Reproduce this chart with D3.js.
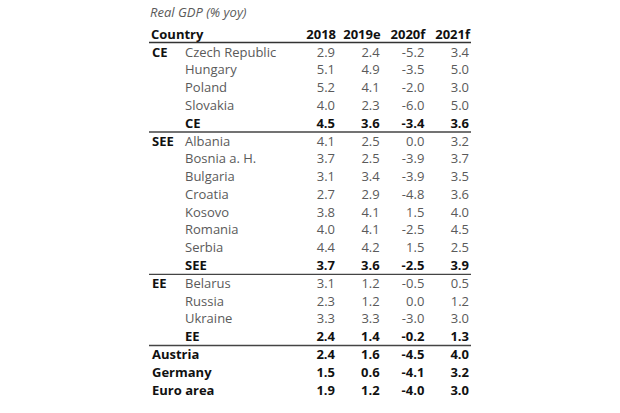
<!DOCTYPE html>
<html><head><meta charset="utf-8">
<script src="https://cdn.jsdelivr.net/npm/d3@7"></script>
<style>
html,body{margin:0;padding:0;background:#fff;}
svg{display:block;}
text{font-family:"Open Sans","DejaVu Sans",sans-serif;}
</style></head>
<body>
<svg id="chart" width="620" height="413"></svg>
<script>
const title = "Real GDP (% yoy)";
const columns = ["2018", "2019e", "2020f", "2021f"];
const groups = ["CE","","","","", "SEE","","","","","","","", "EE","","","", "","",""];
const countries = ["Czech Republic","Hungary","Poland","Slovakia","CE",
  "Albania","Bosnia a. H.","Bulgaria","Croatia","Kosovo","Romania","Serbia","SEE",
  "Belarus","Russia","Ukraine","EE",
  "Austria","Germany","Euro area"];
const v2018 = [2.9,5.1,5.2,4.0,4.5, 4.1,3.7,3.1,2.7,3.8,4.0,4.4,3.7, 3.1,2.3,3.3,2.4, 2.4,1.5,1.9];
const v2019 = [2.4,4.9,4.1,2.3,3.6, 2.5,2.5,3.4,2.9,4.1,4.1,4.2,3.6, 1.2,1.2,3.3,1.4, 1.6,0.6,1.2];
const v2020 = [-5.2,-3.5,-2.0,-6.0,-3.4, 0.0,-3.9,-3.9,-4.8,1.5,-2.5,1.5,-2.5, -0.5,0.0,-3.0,-0.2, -4.5,-4.1,-4.0];
const v2021 = [3.4,5.0,3.0,5.0,3.6, 3.2,3.7,3.5,3.6,4.0,4.5,2.5,3.9, 0.5,1.2,3.0,1.3, 4.0,3.2,3.0];
const boldRows = [4,12,16,17,18,19];
const standalone = [17,18,19];
const separatorsAfter = [4,12,16];

const svg = d3.select("#chart");
const rows = countries.map((c,i)=>({i, group:groups[i], country:c, vals:[v2018[i],v2019[i],v2020[i],v2021[i]], bold:boldRows.includes(i)}));

const y = d3.scalePoint().domain(d3.range(countries.length)).range([52, 390]);
const x = d3.scalePoint().domain(columns).range([335, 469]);
const step = y.step();
const fmt = v => d3.format(".1f")(v).replace("\u2212","-");

const gray = "#5a5a5a", black = "#111";
const fs = 13;

svg.append("text").attr("x",150).attr("y",17).attr("font-size",fs).attr("font-style","italic")
  .attr("fill",gray).text(title);

// header
svg.append("text").attr("x",151).attr("y",34).attr("dy","0.35em").attr("font-size",fs).attr("font-weight","bold").attr("fill",black).text("Country");
svg.selectAll("text.hdr").data(columns).join("text").attr("class","hdr")
  .attr("x",d=>x(d)+1).attr("y",34).attr("dy","0.35em").attr("text-anchor","end")
  .attr("font-size",fs).attr("font-weight","bold").attr("fill",black).text(d=>d);
svg.append("line").attr("x1",149).attr("x2",471).attr("y1",42.5).attr("y2",42.5).attr("stroke","#333").attr("stroke-width",1.6);

separatorsAfter.forEach(i=>{
  const yy = y(i)+step/2;
  svg.append("line").attr("x1",149).attr("x2",471).attr("y1",yy).attr("y2",yy).attr("stroke","#444").attr("stroke-width",1.4);
});

const g = svg.selectAll("g.row").data(rows).join("g").attr("class","row")
  .attr("transform",d=>`translate(0,${y(d.i)})`);
g.filter(d=>d.group).append("text").attr("x",152).attr("dy","0.35em").attr("font-size",fs)
  .attr("font-weight","bold").attr("fill",black).text(d=>d.group);
g.append("text").attr("x",d=>standalone.includes(d.i)?152:185).attr("dy","0.35em").attr("font-size",fs)
  .attr("font-weight",d=>d.bold?"bold":"normal").attr("fill",d=>d.bold?black:gray).text(d=>d.country);
g.selectAll("text.val").data(d=>d.vals.map((v,k)=>({v,k,bold:d.bold}))).join("text").attr("class","val")
  .attr("x",d=>x(columns[d.k])).attr("dy","0.35em").attr("text-anchor","end").attr("font-size",fs)
  .attr("font-weight",d=>d.bold?"bold":"normal").attr("fill",d=>d.bold?black:gray)
  .text(d=>fmt(d.v));
</script>
</body></html>
